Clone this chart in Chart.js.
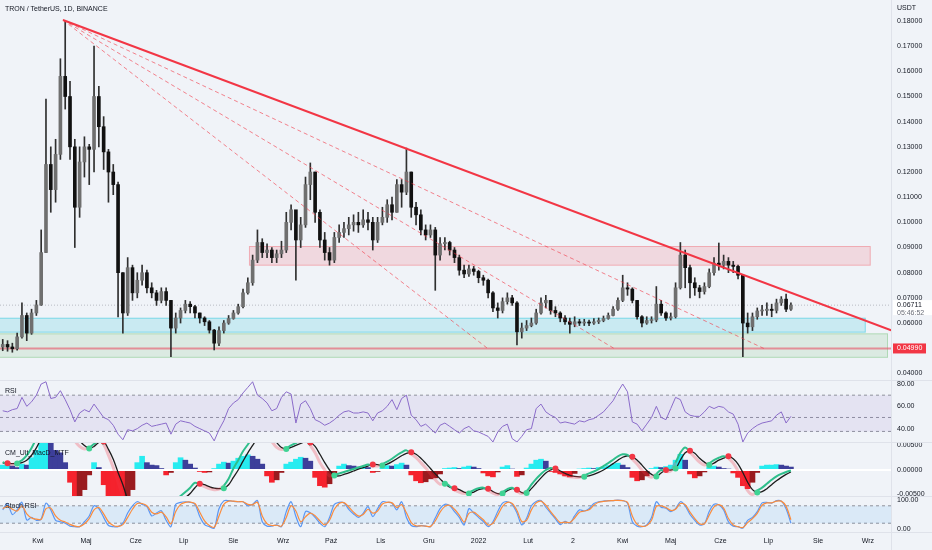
<!DOCTYPE html>
<html>
<head>
<meta charset="utf-8">
<script src="https://cdn.jsdelivr.net/npm/chart.js@4.4.1/dist/chart.umd.min.js"></script>
<style>
  html, body { margin: 0; padding: 0; background: #f0f3f8; }
  #wrap { position: relative; width: 932px; height: 550px; overflow: hidden; font-family: "Liberation Sans", Arial, sans-serif; }
  .pane { position: absolute; left: 0; width: 932px; }
  .pane canvas { display: block; }
  .lbl { position: absolute; font-size: 7px; line-height: 8px; color: #131722; white-space: nowrap; z-index: 5; }
  .hsep { position: absolute; left: 0; width: 932px; height: 1px; background: #dfe2ea; z-index: 4; }
  .vsep { position: absolute; left: 891px; top: 0; width: 1px; height: 550px; background: #dfe2ea; z-index: 4; }
</style>
</head>
<body>
<div id="wrap">
  <div class="pane" style="top:0;height:380px"><canvas id="cMain" width="932" height="380"></canvas></div>
  <div class="pane" style="top:381px;height:62px"><canvas id="cRsi" width="932" height="62"></canvas></div>
  <div class="pane" style="top:443px;height:54px"><canvas id="cMacd" width="932" height="54"></canvas></div>
  <div class="pane" style="top:497px;height:53px"><canvas id="cStoch" width="932" height="53"></canvas></div>
  <div class="hsep" style="top:380px"></div>
  <div class="hsep" style="top:442px"></div>
  <div class="hsep" style="top:496px"></div>
  <div class="hsep" style="top:532px"></div>
  <div class="vsep"></div>
  <div class="lbl" style="left:5px;top:5px">TRON / TetherUS, 1D, BINANCE</div>
  <div class="lbl" style="left:897px;top:4px">USDT</div>
  <div class="lbl" style="left:5px;top:387px">RSI</div>
  <div class="lbl" style="left:5px;top:449px">CM_Ult_MacD_MTF</div>
  <div class="lbl" style="left:5px;top:502px">Stoch RSI</div>
</div>
<script>
// ---------------- DATA ----------------
// one candle per 3 days, x = days counted from 1 Mar 2021
const firstDay = 9;
const stepDays = 3;

const opens = [
  .0505,.0515,.0505,.0498,.0545,.0630,.0560,.0640,.0672,.0880,
  .1230,.1130,.1270,.1580,.1500,.1300,.1060,.1240,.1300,.1290,
  .1500,.1380,.1280,.1200,.1150,.0800,.0640,.0820,.0720,.0770,
  .0800,.0740,.0720,.0690,.0725,.0690,.0580,.0620,.0650,.0675,
  .0665,.0640,.0620,.0605,.0572,.0520,.0570,.0600,.0618,.0640,
  .0665,.0720,.0760,.0850,.0920,.0880,.0890,.0860,.0875,.0890,
  .1000,.1050,.0930,.0990,.1150,.1200,.1040,.0930,.0880,.0850,
  .0940,.0960,.0975,.0990,.1000,.0990,.1010,.1000,.0930,.1000,
  .1020,.1070,.1040,.1150,.1120,.1200,.1060,.1030,.0970,.0950,
  .0970,.0870,.0915,.0920,.0890,.0860,.0810,.0795,.0815,.0805,
  .0780,.0770,.0720,.0660,.0650,.0685,.0700,.0680,.0565,.0580,
  .0590,.0600,.0640,.0680,.0690,.0650,.0640,.0620,.0605,.0595,
  .0605,.0600,.0602,.0600,.0605,.0610,.0618,.0630,.0655,.0690,
  .0740,.0735,.0690,.0625,.0600,.0610,.0612,.0675,.0640,.0620,
  .0625,.0740,.0870,.0820,.0760,.0740,.0725,.0745,.0800,.0838,
  .0830,.0845,.0830,.0825,.0790,.0600,.0585,.0625,.0648,.0650,
  .0655,.0650,.0680,.0695,.0655
];
const highs = [
  .0535,.0530,.0520,.0560,.0680,.0640,.0655,.0690,.0970,.1490,
  .1300,.1330,.1650,.1800,.1560,.1330,.1300,.1340,.1310,.1700,
  .1540,.1420,.1290,.1230,.1160,.0800,.0860,.0830,.0800,.0830,
  .0810,.0760,.0730,.0740,.0740,.0690,.0640,.0660,.0690,.0685,
  .0670,.0640,.0625,.0610,.0575,.0585,.0610,.0630,.0650,.0675,
  .0735,.0780,.0870,.0970,.0935,.0915,.0900,.0890,.0925,.1040,
  .1070,.1040,.1020,.1180,.1236,.1200,.1050,.0960,.0900,.0960,
  .0990,.1000,.1020,.1030,.1040,.1050,.1040,.1020,.1020,.1060,
  .1090,.1100,.1170,.1170,.1295,.1200,.1080,.1050,.0990,.0990,
  .0980,.0940,.0940,.0925,.0900,.0870,.0830,.0830,.0825,.0810,
  .0790,.0775,.0725,.0680,.0700,.0720,.0710,.0685,.0600,.0610,
  .0620,.0655,.0700,.0710,.0690,.0665,.0645,.0630,.0620,.0625,
  .0615,.0615,.0612,.0618,.0620,.0628,.0640,.0665,.0700,.0790,
  .0760,.0740,.0690,.0630,.0625,.0625,.0745,.0690,.0645,.0640,
  .0760,.0920,.0890,.0830,.0780,.0750,.0760,.0815,.0860,.0918,
  .0870,.0860,.0845,.0830,.0790,.0640,.0640,.0660,.0670,.0680,
  .0675,.0695,.0705,.0715,.0680
];
const lows = [
  .0490,.0488,.0484,.0492,.0540,.0530,.0555,.0630,.0670,.0880,
  .1040,.1080,.1250,.1450,.1250,.0900,.1020,.1180,.1150,.1200,
  .1300,.1210,.1080,.1110,.0624,.0560,.0630,.0690,.0700,.0750,
  .0720,.0700,.0670,.0680,.0670,.0466,.0560,.0600,.0640,.0640,
  .0620,.0600,.0590,.0560,.0493,.0510,.0560,.0595,.0615,.0635,
  .0660,.0715,.0750,.0840,.0860,.0860,.0840,.0840,.0860,.0880,
  .0970,.0770,.0900,.0980,.1090,.1000,.0900,.0850,.0830,.0840,
  .0920,.0940,.0950,.0965,.0960,.0980,.0970,.0890,.0920,.0990,
  .1000,.1010,.1040,.1060,.1110,.1020,.0990,.0950,.0930,.0940,
  .0730,.0850,.0890,.0870,.0840,.0790,.0780,.0785,.0790,.0760,
  .0750,.0700,.0645,.0620,.0640,.0675,.0670,.0513,.0540,.0570,
  .0585,.0595,.0635,.0660,.0635,.0625,.0605,.0595,.0560,.0585,
  .0590,.0590,.0590,.0595,.0598,.0605,.0615,.0628,.0650,.0685,
  .0710,.0680,.0615,.0585,.0595,.0600,.0605,.0630,.0610,.0612,
  .0620,.0735,.0740,.0700,.0710,.0700,.0715,.0740,.0790,.0810,
  .0815,.0800,.0800,.0775,.0466,.0560,.0570,.0615,.0630,.0630,
  .0625,.0640,.0670,.0645,.0650
];
const closes = [
  .0515,.0505,.0498,.0545,.0630,.0560,.0640,.0672,.0880,.1230,
  .1130,.1270,.1580,.1500,.1300,.1060,.1240,.1300,.1290,.1500,
  .1380,.1280,.1200,.1150,.0800,.0640,.0820,.0720,.0770,.0800,
  .0740,.0720,.0690,.0725,.0690,.0580,.0620,.0650,.0675,.0665,
  .0640,.0620,.0605,.0572,.0520,.0570,.0600,.0618,.0640,.0665,
  .0720,.0760,.0850,.0920,.0880,.0890,.0860,.0875,.0890,.1000,
  .1050,.0930,.0990,.1150,.1200,.1040,.0930,.0880,.0850,.0940,
  .0960,.0975,.0990,.1000,.0990,.1010,.1000,.0930,.1000,.1020,
  .1070,.1040,.1150,.1120,.1200,.1060,.1030,.0970,.0950,.0970,
  .0870,.0915,.0920,.0890,.0860,.0810,.0795,.0815,.0805,.0780,
  .0770,.0720,.0660,.0650,.0685,.0700,.0680,.0565,.0580,.0590,
  .0600,.0640,.0680,.0690,.0650,.0640,.0620,.0605,.0595,.0605,
  .0600,.0602,.0600,.0605,.0610,.0618,.0630,.0655,.0690,.0740,
  .0735,.0690,.0625,.0600,.0610,.0612,.0675,.0640,.0620,.0625,
  .0740,.0870,.0820,.0760,.0740,.0725,.0745,.0800,.0838,.0830,
  .0845,.0830,.0825,.0790,.0600,.0585,.0625,.0648,.0650,.0655,
  .0650,.0680,.0695,.0655,.0671
];

const rsi = [
  56,55,57,58,68,60,64,70,80,82,
  67,68,74,66,57,46,54,57,55,62,
  56,50,48,43,35,30,39,38,40,43,
  45,42,43,44,45,35,44,47,46,45,
  42,40,38,36,29,39,47,58,63,66,
  72,77,82,70,67,63,56,58,68,73,
  71,45,62,65,58,48,46,43,45,48,
  52,55,56,54,54,55,54,47,54,56,
  60,66,57,67,70,52,48,42,44,40,
  36,43,45,42,39,36,40,42,38,37,
  35,33,28,37,42,44,31,28,33,39,
  40,58,62,55,52,50,45,46,45,44,
  47,46,48,49,52,55,60,65,73,80,
  73,46,44,38,44,50,60,50,48,58,
  68,66,55,52,51,51,55,60,58,60,
  59,55,53,44,28,36,40,43,45,46,
  47,52,55,45,51
];

// MACD values in thousandths of USDT
const macdHist = [
  1.0,1.2,0.8,0.5,1.2,1.0,2.5,4.0,7.0,9.0,
  6.5,4.0,3.5,1.5,-2.5,-6.5,-6.0,-4.0,-1.0,1.5,
  0.5,-3.0,-6.0,-7.5,-9.0,-9.5,-7.0,-4.0,1.5,2.8,
  1.5,1.0,0.9,0.3,-1.0,-0.5,1.5,2.5,2.0,1.2,
  0.4,-0.3,-0.5,-0.4,0.3,1.2,1.6,1.4,1.8,2.4,
  2.8,3.1,2.8,2.2,1.2,-1.2,-2.5,-2.0,-0.5,1.2,
  1.6,2.2,2.6,2.4,1.8,-1.5,-3.2,-3.5,-2.8,-1.0,
  0.8,1.2,0.9,0.8,0.6,0.7,0.5,-0.5,-0.3,0.5,
  0.9,0.8,1.1,1.4,1.0,-1.0,-2.2,-2.6,-2.4,-1.8,
  -1.6,-0.8,0.3,0.4,0.5,0.3,0.6,0.8,0.6,0.3,
  -0.6,-1.2,-1.4,-0.4,0.6,0.9,0.2,-1.3,-1.0,0.4,
  1.2,2.0,2.2,1.8,-0.3,-0.5,-0.8,-1.2,-1.4,-0.7,
  0.2,0.3,0.4,0.3,0.5,0.6,0.9,1.2,1.4,1.0,
  0.5,-1.5,-2.2,-2.0,-1.2,0.3,0.6,0.5,0.7,1.0,
  2.0,3.2,2.0,-0.8,-1.6,-1.2,-0.4,0.6,0.8,0.6,
  0.3,0.2,-0.6,-1.5,-3.2,-3.8,-2.5,-0.5,0.8,1.0,
  1.0,1.1,1.0,0.8,0.6
];
const macdLine = [
  1.6,1.2,1.1,1.5,2.0,3.0,4.5,6.5,9.0,11.5,
  13.0,13.5,13.0,11.0,8.5,6.0,4.8,4.3,4.6,5.3,
  5.9,5.2,3.0,0.5,-2.5,-5.5,-8.0,-9.5,-10.0,-10.0,
  -9.8,-9.5,-9.0,-8.5,-7.5,-6.8,-6.0,-5.3,-4.5,-3.6,
  -2.6,-3.0,-3.4,-3.8,-4.0,-3.9,-3.2,-1.8,0.3,2.0,
  3.8,5.2,6.5,7.8,8.0,7.0,5.8,4.6,4.2,4.5,
  5.0,5.5,6.0,6.0,5.0,3.5,1.5,0.0,-1.2,-1.0,
  -0.7,-0.4,-0.1,0.2,0.5,0.8,1.1,0.9,0.8,1.2,
  1.7,2.3,3.0,3.6,4.0,3.3,2.5,1.5,0.4,-0.8,
  -2.0,-2.9,-2.6,-3.3,-4.0,-4.5,-4.8,-4.6,-4.1,-3.7,
  -3.6,-4.1,-4.7,-5.0,-4.5,-3.9,-3.6,-4.3,-4.8,-4.3,
  -3.0,-1.8,-0.8,0.0,0.4,0.0,-0.6,-1.1,-1.4,-1.5,
  -1.5,-1.1,-0.7,-0.3,0.2,0.8,1.4,2.1,2.8,3.2,
  3.1,2.2,1.2,0.0,-1.0,-1.5,-0.8,0.0,-0.3,-0.2,
  1.5,3.5,4.6,3.6,2.6,1.6,1.0,1.4,2.0,2.5,
  2.8,2.4,1.4,-0.2,-2.3,-4.2,-5.0,-4.2,-3.6,-2.8,
  -2.0,-1.3,-0.8,-0.4,-0.1
];
const macdSignal = [
  1.4,1.4,1.3,1.3,1.5,2.0,3.0,4.5,6.5,9.0,
  11.0,12.0,12.5,12.0,10.5,8.0,6.0,5.0,4.4,4.8,
  5.6,5.8,4.2,2.2,-0.5,-3.0,-6.0,-8.0,-9.0,-9.5,
  -9.5,-9.2,-8.8,-8.3,-7.8,-7.3,-6.8,-6.2,-5.6,-4.8,
  -3.6,-2.8,-3.0,-3.4,-3.7,-3.8,-3.7,-3.0,-1.5,0.0,
  1.8,3.5,5.0,6.5,7.5,7.6,6.8,5.6,4.6,4.3,
  4.6,5.0,5.4,5.8,5.6,4.8,3.2,1.5,0.0,-1.1,
  -1.2,-0.9,-0.6,-0.2,0.2,0.5,0.8,1.1,1.1,0.9,
  1.2,1.7,2.3,2.9,3.4,3.6,3.2,2.4,1.4,0.3,
  -0.8,-1.8,-2.8,-3.5,-3.7,-4.0,-4.5,-4.8,-4.5,-4.0,
  -3.8,-3.8,-4.4,-4.8,-4.8,-4.2,-3.8,-4.0,-4.6,-4.7,
  -3.8,-2.7,-1.6,-0.6,0.0,0.3,-0.2,-0.7,-1.1,-1.3,
  -1.4,-1.4,-1.2,-0.9,-0.5,0.0,0.6,1.3,2.0,2.6,
  2.9,2.7,2.0,1.0,-0.1,-0.9,-1.3,-0.6,0.0,0.0,
  0.3,2.0,3.5,3.9,3.4,2.4,1.6,1.0,1.4,2.0,
  2.4,2.8,2.3,1.2,-0.5,-2.5,-4.0,-4.6,-4.4,-3.8,
  -3.0,-2.2,-1.5,-0.9,-0.4
];

const stochK = [
  66,88,50,66,92,31,40,30,35,89,
  66,30,25,20,10,8,8,25,45,80,
  70,40,12,8,8,20,55,80,94,85,
  77,45,55,63,30,8,85,92,94,92,
  85,43,15,8,3,70,97,98,95,94,
  94,80,85,98,25,10,10,14,8,60,
  94,43,8,60,56,40,20,8,40,85,
  92,90,68,52,40,54,77,43,70,94,
  92,89,66,94,40,12,8,12,10,8,
  38,70,85,80,60,40,14,70,55,40,
  26,8,25,60,89,94,85,55,14,37,
  80,95,98,75,55,35,15,26,20,45,
  66,62,70,88,94,96,98,98,100,98,
  89,25,10,8,14,40,94,75,72,60,
  70,94,80,50,30,14,18,60,85,83,
  66,25,10,8,3,30,40,60,90,92,
  89,98,96,70,20
];
const stochD = [
  70,78,68,62,80,52,38,34,33,70,
  72,45,30,24,16,10,8,18,36,66,
  74,52,25,12,9,15,40,68,88,88,
  80,58,52,58,42,18,60,85,92,93,
  88,58,28,12,6,45,85,96,96,94,
  94,85,84,92,45,18,12,13,10,40,
  80,62,25,42,55,46,28,14,30,68,
  88,91,76,58,45,50,68,55,62,86,
  92,90,74,84,56,22,11,11,10,9,
  28,58,78,82,68,48,24,54,58,46,
  32,14,20,48,78,92,88,64,26,30,
  66,90,96,82,60,40,22,24,22,38,
  58,62,66,82,92,95,97,98,99,98,
  92,45,16,9,12,30,78,80,74,64,
  68,88,84,58,36,18,18,48,76,84,
  72,36,14,8,5,22,36,54,82,90,
  90,96,96,78,32
];

// month labels (days from 1 Mar 2021)
const monthDays = [31, 61, 92, 122, 153, 184, 214, 245, 275, 306, 337, 365, 396, 426, 457, 487, 518, 549];
const monthLabels = ['Kwi', 'Maj', 'Cze', 'Lip', 'Sie', 'Wrz', 'Paź', 'Lis', 'Gru', '2022', 'Lut', '2', 'Kwi', 'Maj', 'Cze', 'Lip', 'Sie', 'Wrz'];

const priceTicks = [0.04, 0.05, 0.06, 0.07, 0.08, 0.09, 0.10, 0.11, 0.12, 0.13, 0.14, 0.15, 0.16, 0.17, 0.18];
const rsiTicks = [40, 60, 80];
const rsiBands = [70, 50, 37.5];
const macdTicks = [-5, 0, 5];
const stochTicks = [0, 100];
const stochBands = [80, 20];

// drawn objects (price / day values)
const zones = [
  { from: 162.7, to: 550.8, low: 0.0828, high: 0.0906 },
  { from: 0, to: 547.7, low: 0.0562, high: 0.0621 },
  { from: 0, to: 561.6, low: 0.0462, high: 0.0559 }
];
const trendStart = { x: 46.6, y: 0.1804 };
const trendEnds = [
  { x: 564.0, y: 0.0570 },
  { x: 484.8, y: 0.0497 },
  { x: 391.2, y: 0.0497 },
  { x: 311.3, y: 0.0501 }
];
const supportLevel = 0.0499;
const lastPrice = 0.06711;
const countdown = '05:46:52';

// ---------------- HELPERS ----------------
const FONT = '"Liberation Sans", Arial, sans-serif';
const TXT = '#131722';
const xMin = 7.3, xMax = 564.1;
const zoneStyles = [
  { fill: 'rgba(242,54,69,0.14)', line: 'rgba(242,54,69,0.28)' },
  { fill: 'rgba(0,188,212,0.16)', line: 'rgba(0,188,212,0.38)' },
  { fill: 'rgba(76,175,80,0.13)', line: 'rgba(76,175,80,0.30)' }
];

const days = closes.map((_, i) => firstDay + i * stepDays);
const pts = arr => arr.map((v, i) => ({ x: days[i], y: v }));
const hline = v => [{ x: xMin, y: v }, { x: xMax, y: v }];

function xScale(show) {
  const s = {
    type: 'linear', min: xMin, max: xMax, offset: false, display: show,
    grid: { display: false, drawTicks: false }, border: { display: false },
    afterBuildTicks: sc => { sc.ticks = monthDays.map(v => ({ value: v })); },
    ticks: {
      autoSkip: false, maxRotation: 0, color: TXT, padding: 5,
      font: { size: 7, family: FONT },
      callback: (v, i) => monthLabels[i]
    }
  };
  if (show) s.afterFit = sc => { sc.height = 18; sc.paddingLeft = 0; sc.paddingRight = 0; };
  return s;
}

function yScale(min, max, ticks, fmt) {
  return {
    position: 'right', min: min, max: max,
    grid: { display: false, drawTicks: false }, border: { display: false },
    afterBuildTicks: s => { s.ticks = ticks.map(v => ({ value: v })); },
    ticks: { autoSkip: false, color: TXT, padding: 5, font: { size: 7, family: FONT }, callback: v => fmt(v) },
    afterFit: s => { s.width = 40; s.paddingTop = 0; s.paddingBottom = 0; }
  };
}

function baseOptions(scales) {
  return {
    responsive: false, animation: false, events: [],
    layout: { padding: 0, autoPadding: false },
    plugins: { legend: { display: false }, tooltip: { enabled: false } },
    scales: scales
  };
}

const zonePlugin = {
  id: 'zones',
  beforeDatasetsDraw(chart) {
    const { ctx, chartArea: a, scales: { x, y } } = chart;
    ctx.save();
    ctx.beginPath(); ctx.rect(a.left, a.top, a.width, a.height); ctx.clip();
    zones.forEach((z, k) => {
      const x0 = x.getPixelForValue(z.from), x1 = x.getPixelForValue(z.to);
      const y0 = y.getPixelForValue(z.high), y1 = y.getPixelForValue(z.low);
      ctx.fillStyle = zoneStyles[k].fill;
      ctx.fillRect(x0, y0, x1 - x0, y1 - y0);
      ctx.strokeStyle = zoneStyles[k].line;
      ctx.lineWidth = 1;
      ctx.strokeRect(x0 + 0.5, y0 + 0.5, x1 - x0 - 1, y1 - y0 - 1);
    });
    ctx.restore();
  }
};

const axisTagPlugin = {
  id: 'axisTags',
  afterDraw(chart) {
    const { ctx, chartArea: a, scales: { y } } = chart;
    const left = a.right;
    ctx.save();
    ctx.font = '7px ' + FONT;
    ctx.textBaseline = 'middle';
    ctx.textAlign = 'left';
    let py = y.getPixelForValue(lastPrice);
    ctx.fillStyle = '#ffffff';
    ctx.fillRect(left + 1, py - 5, chart.width - left - 1, 15);
    ctx.fillStyle = TXT;
    ctx.fillText(lastPrice.toFixed(5), left + 5, py);
    ctx.fillStyle = '#6a6d78';
    ctx.fillText(countdown, left + 5, py + 8);
    py = y.getPixelForValue(supportLevel);
    ctx.fillStyle = '#f23645';
    ctx.fillRect(left + 1, py - 5, 33, 10);
    ctx.fillStyle = '#ffffff';
    ctx.fillText(supportLevel.toFixed(5), left + 5, py);
    ctx.restore();
  }
};

// ---------------- MAIN PRICE PANE ----------------
const UP = '#6f6f6f', DOWN = '#111111';
new Chart(document.getElementById('cMain'), {
  type: 'bar',
  data: {
    datasets: [
      ...trendEnds.map((e, k) => ({
        type: 'line', data: [trendStart, e], pointRadius: 0, order: 0,
        borderColor: k === 0 ? '#f23645' : 'rgba(242,54,69,0.6)',
        borderWidth: k === 0 ? 2 : 1, borderDash: k === 0 ? [] : [4, 3]
      })),
      {
        data: closes.map((c, i) => ({ x: days[i], y: [opens[i], c] })),
        backgroundColor: closes.map((c, i) => c >= opens[i] ? UP : DOWN),
        barThickness: 3, grouped: false, minBarLength: 1, order: 1
      },
      {
        data: lows.map((l, i) => ({ x: days[i], y: [l, highs[i]] })),
        backgroundColor: '#2f2f2f', barThickness: 1, grouped: false, order: 2
      },
      { type: 'line', data: hline(supportLevel), borderColor: 'rgba(232,80,100,0.6)', borderWidth: 2, pointRadius: 0, order: 3 },
      { type: 'line', data: hline(lastPrice), borderColor: 'rgba(120,123,134,0.45)', borderWidth: 1, borderDash: [1, 2], pointRadius: 0, order: 3 }
    ]
  },
  options: baseOptions({
    x: xScale(false),
    y: yScale(0.03737, 0.18834, priceTicks, v => v.toFixed(5))
  }),
  plugins: [zonePlugin, axisTagPlugin]
});

// ---------------- RSI PANE ----------------
const BAND = '#8f929c';
new Chart(document.getElementById('cRsi'), {
  type: 'line',
  data: {
    datasets: [
      { data: hline(rsiBands[0]), borderColor: BAND, borderWidth: 1, borderDash: [3, 3], pointRadius: 0, fill: 2, backgroundColor: 'rgba(126,87,194,0.1)', order: 2 },
      { data: hline(rsiBands[1]), borderColor: BAND, borderWidth: 1, borderDash: [3, 3], pointRadius: 0, fill: false, order: 2 },
      { data: hline(rsiBands[2]), borderColor: BAND, borderWidth: 1, borderDash: [3, 3], pointRadius: 0, fill: false, order: 2 },
      { data: pts(rsi), borderColor: '#8a6bc9', borderWidth: 1, pointRadius: 0, fill: false, order: 1 }
    ]
  },
  options: baseOptions({
    x: xScale(false),
    y: yScale(27.1, 82.7, rsiTicks, v => v.toFixed(2))
  })
});

// ---------------- MACD PANE ----------------
const crossIdx = macdLine.map((m, i) => i).filter(i =>
  i > 0 && (macdLine[i] >= macdSignal[i]) !== (macdLine[i - 1] >= macdSignal[i - 1]));
const GREEN = '#2fbf8c';
new Chart(document.getElementById('cMacd'), {
  type: 'bar',
  data: {
    datasets: [
      {
        type: 'line', data: crossIdx.map(i => ({ x: days[i], y: macdSignal[i] })),
        showLine: false, pointRadius: 3, pointBorderWidth: 0,
        pointBackgroundColor: crossIdx.map(i => macdLine[i] >= macdSignal[i] ? '#3fd394' : '#f23645'),
        order: 0
      },
      {
        type: 'line', data: pts(macdLine), pointRadius: 0, borderWidth: 2, borderColor: GREEN, tension: 0.35, order: 1,
        segment: {
          borderColor: c => macdLine[c.p0DataIndex] >= macdSignal[c.p0DataIndex] ? GREEN : 'rgba(242,54,69,0.28)',
          borderWidth: c => macdLine[c.p0DataIndex] >= macdSignal[c.p0DataIndex] ? 2 : 3
        }
      },
      { type: 'line', data: pts(macdSignal), pointRadius: 0, borderWidth: 1.3, borderColor: '#1c1c1c', tension: 0.35, order: 1 },
      { type: 'line', data: hline(0), pointRadius: 0, borderWidth: 2, borderColor: '#ffffff', order: 2 },
      {
        data: pts(macdHist), barThickness: 5, grouped: false, order: 3,
        backgroundColor: macdHist.map((h, i) => {
          const prev = i > 0 ? macdHist[i - 1] : 0;
          if (h >= 0) return h >= prev ? '#27ecf0' : '#3d3f9a';
          return h <= prev ? '#f5222d' : '#9a1b1f';
        })
      }
    ]
  },
  options: baseOptions({
    x: xScale(false),
    y: yScale(-5.5, 5.5, macdTicks, v => (v / 1000).toFixed(5))
  })
});

// ---------------- STOCH RSI PANE ----------------
new Chart(document.getElementById('cStoch'), {
  type: 'line',
  data: {
    datasets: [
      { data: hline(stochBands[0]), borderColor: BAND, borderWidth: 1, borderDash: [3, 3], pointRadius: 0, fill: 1, backgroundColor: 'rgba(33,150,243,0.1)', order: 3 },
      { data: hline(stochBands[1]), borderColor: BAND, borderWidth: 1, borderDash: [3, 3], pointRadius: 0, fill: false, order: 3 },
      { data: pts(stochK), borderColor: '#5b97f3', borderWidth: 1.2, pointRadius: 0, fill: false, tension: 0.3, order: 2 },
      { data: pts(stochD), borderColor: '#fb8c3c', borderWidth: 1.2, pointRadius: 0, fill: false, tension: 0.3, order: 1 }
    ]
  },
  options: baseOptions({
    x: xScale(true),
    y: yScale(-10.3, 110.3, stochTicks, v => v.toFixed(2))
  })
});
</script>
</body>
</html>
